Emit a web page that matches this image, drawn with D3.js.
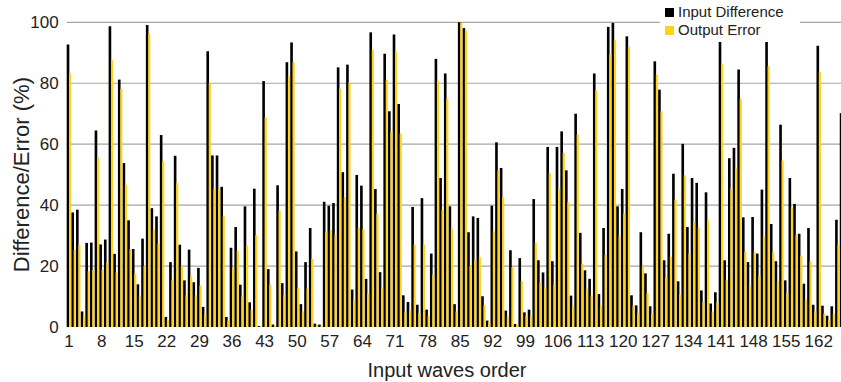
<!DOCTYPE html>
<html>
<head>
<meta charset="utf-8">
<script src="https://cdn.jsdelivr.net/npm/d3@7/dist/d3.min.js"></script>
<style>
  html, body { margin: 0; padding: 0; background: #fff; }
  svg { display: block; }
  text { font-family: "Liberation Sans", Arial, sans-serif; }
</style>
</head>
<body>
<svg id="chart" width="841" height="382"></svg>
<script>
// Input difference (%) per input wave, in order 1..167
const inputDifference = [
  92.7, 37.6, 38.5, 5.1, 27.6, 27.7, 64.5, 27.1, 28.7, 98.7,
  24.0, 81.2, 53.8, 35.0, 25.6, 14.0, 29.0, 99.1, 39.0, 36.3,
  63.0, 3.3, 21.3, 56.2, 27.0, 15.3, 25.4, 14.7, 19.4, 6.6,
  90.5, 56.3, 56.3, 46.0, 3.3, 26.0, 32.8, 13.9, 39.6, 8.1,
  45.4, 0.3, 80.7, 19.0, 0.8, 46.5, 14.4, 86.9, 93.4, 24.8,
  7.5, 21.3, 32.5, 1.1, 0.8, 41.1, 39.8, 40.7, 85.2, 50.8,
  86.1, 12.3, 49.9, 46.4, 15.8, 96.7, 45.3, 18.0, 89.7, 70.8,
  96.0, 73.2, 10.4, 8.2, 39.4, 7.3, 42.3, 5.7, 24.1, 88.0,
  48.9, 83.2, 39.6, 7.5, 100.0, 98.1, 31.1, 36.3, 35.8, 10.1,
  2.1, 39.8, 60.6, 52.2, 5.4, 25.2, 1.0, 22.6, 4.8, 5.7,
  42.0, 21.9, 17.9, 59.1, 21.6, 59.1, 64.2, 51.4, 10.3, 70.0,
  30.9, 18.6, 15.8, 83.2, 10.8, 32.5, 98.5, 99.8, 39.6, 45.3,
  95.4, 10.4, 7.1, 31.1, 17.6, 6.8, 87.2, 77.9, 21.9, 30.6,
  50.3, 15.0, 60.1, 32.8, 48.9, 47.3, 12.0, 44.2, 7.7, 11.4,
  94.1, 21.9, 55.4, 58.8, 84.5, 36.0, 21.3, 36.1, 24.1, 45.1,
  93.8, 33.8, 21.6, 66.4, 15.3, 48.9, 40.4, 30.6, 14.2, 32.5,
  7.3, 92.3, 7.0, 3.7, 6.8, 35.2, 70.2
];

// Output error (%) per input wave, same order
const outputError = [
  83.2, 25.4, 27.0, 3.5, 18.3, 18.7, 55.7, 18.8, 21.2, 87.5,
  17.9, 78.1, 46.7, 25.6, 17.5, 10.0, 20.0, 96.3, 32.0, 27.4,
  54.3, 2.4, 15.5, 47.2, 20.1, 10.4, 16.6, 10.4, 13.6, 4.4,
  80.1, 45.4, 45.4, 36.5, 2.1, 19.3, 25.0, 10.0, 26.7, 5.7,
  30.1, 0.2, 68.8, 13.9, 0.5, 38.2, 10.4, 82.3, 86.9, 12.8,
  5.1, 12.6, 22.3, 0.7, 0.4, 31.1, 31.7, 30.1, 78.2, 42.6,
  80.3, 9.0, 32.7, 32.0, 10.9, 91.0, 37.2, 12.7, 81.2, 64.1,
  90.4, 63.5, 4.8, 5.4, 27.0, 4.6, 27.0, 3.7, 17.2, 80.6,
  38.5, 74.8, 32.3, 5.1, 99.8, 97.3, 20.1, 22.1, 22.9, 7.1,
  1.5, 31.4, 51.3, 42.6, 3.5, 19.6, 0.8, 15.1, 3.7, 3.7,
  27.6, 14.4, 13.0, 50.5, 13.9, 45.4, 57.1, 40.9, 6.8, 63.1,
  20.8, 12.5, 10.3, 77.6, 7.0, 23.7, 89.4, 94.3, 30.0, 37.2,
  91.9, 7.0, 4.6, 20.1, 11.2, 4.4, 82.8, 70.8, 16.3, 23.0,
  41.8, 10.6, 49.8, 24.1, 34.4, 32.7, 8.1, 35.0, 5.1, 8.1,
  86.4, 15.5, 45.5, 52.0, 74.8, 24.5, 13.3, 24.5, 16.8, 29.8,
  85.6, 24.5, 15.0, 54.6, 11.2, 39.2, 30.1, 23.4, 9.0, 21.6,
  5.1, 83.6, 4.4, 2.4, 4.4, 27.0, 60.0
];

const waveOrder = d3.range(1, inputDifference.length + 1);
const xTickLabels = d3.range(1, 163, 7);
const yTickLabels = [0, 20, 40, 60, 80, 100];
const seriesNames = ["Input Difference", "Output Error"];
const seriesColors = ["#000000", "#FFD21E"];

const width = 841, height = 382;
const margin = { left: 66.7, top: 22.3, bottom: 55 };
const bandStep = 4.657;

const svg = d3.select("#chart");

const x = d3.scaleBand()
  .domain(waveOrder)
  .range([margin.left, margin.left + bandStep * waveOrder.length])
  .paddingInner(0)
  .paddingOuter(0);

const y = d3.scaleLinear()
  .domain([0, 100])
  .range([height - margin.bottom, margin.top]);

// Horizontal gridlines
svg.append("g")
  .selectAll("line")
  .data(yTickLabels.filter(d => d > 0))
  .join("line")
  .attr("x1", margin.left)
  .attr("x2", width)
  .attr("y1", d => y(d))
  .attr("y2", d => y(d))
  .attr("stroke", "#a6a6a6")
  .attr("stroke-width", 1.2);

// Bars: black input difference on the left half, yellow output error on the right half
const half = x.bandwidth() / 2;
const groups = svg.append("g");

groups.selectAll("rect.diff")
  .data(waveOrder)
  .join("rect")
  .attr("class", "diff")
  .attr("x", d => x(d))
  .attr("width", half + 0.3)
  .attr("y", (d, i) => y(inputDifference[i]))
  .attr("height", (d, i) => y(0) - y(inputDifference[i]))
  .attr("fill", seriesColors[0]);

groups.selectAll("rect.err")
  .data(waveOrder)
  .join("rect")
  .attr("class", "err")
  .attr("x", d => x(d) + half)
  .attr("width", half - 0.2)
  .attr("y", (d, i) => y(outputError[i]))
  .attr("height", (d, i) => y(0) - y(outputError[i]))
  .attr("fill", seriesColors[1]);

// Axes
const xAxis = d3.axisBottom(x)
  .tickValues(xTickLabels)
  .tickSize(0)
  .tickPadding(8);

const gx = svg.append("g")
  .attr("transform", `translate(0,${y(0)})`)
  .call(xAxis);
gx.select(".domain").remove();
gx.selectAll("text")
  .attr("font-size", 17)
  .attr("fill", "#222");

const yAxis = d3.axisLeft(y)
  .tickValues(yTickLabels)
  .tickSize(0)
  .tickPadding(8);

const gy = svg.append("g")
  .attr("transform", `translate(${margin.left},0)`)
  .call(yAxis);
gy.select(".domain").remove();
gy.selectAll("text")
  .attr("font-size", 17)
  .attr("fill", "#222");

// Axis titles
svg.append("text")
  .attr("x", 447)
  .attr("y", 377)
  .attr("text-anchor", "middle")
  .attr("font-size", 20)
  .attr("fill", "#222")
  .text("Input waves order");

svg.append("text")
  .attr("transform", `translate(29,${(y(0) + y(100)) / 2}) rotate(-90)`)
  .attr("text-anchor", "middle")
  .attr("font-size", 22)
  .attr("fill", "#222")
  .text("Difference/Error (%)");

// Legend
const legend = svg.append("g").attr("transform", "translate(660,2)");
legend.append("rect")
  .attr("x", 0).attr("y", 0)
  .attr("width", 140).attr("height", 40)
  .attr("fill", "#fff");

const items = legend.selectAll("g.item")
  .data(seriesNames)
  .join("g")
  .attr("class", "item")
  .attr("transform", (d, i) => `translate(5,${6 + i * 18})`);

items.append("rect")
  .attr("width", 9).attr("height", 9)
  .attr("fill", (d, i) => seriesColors[i]);

items.append("text")
  .attr("x", 13)
  .attr("y", 9)
  .attr("font-size", 15)
  .attr("fill", "#222")
  .text(d => d);
</script>
</body>
</html>
